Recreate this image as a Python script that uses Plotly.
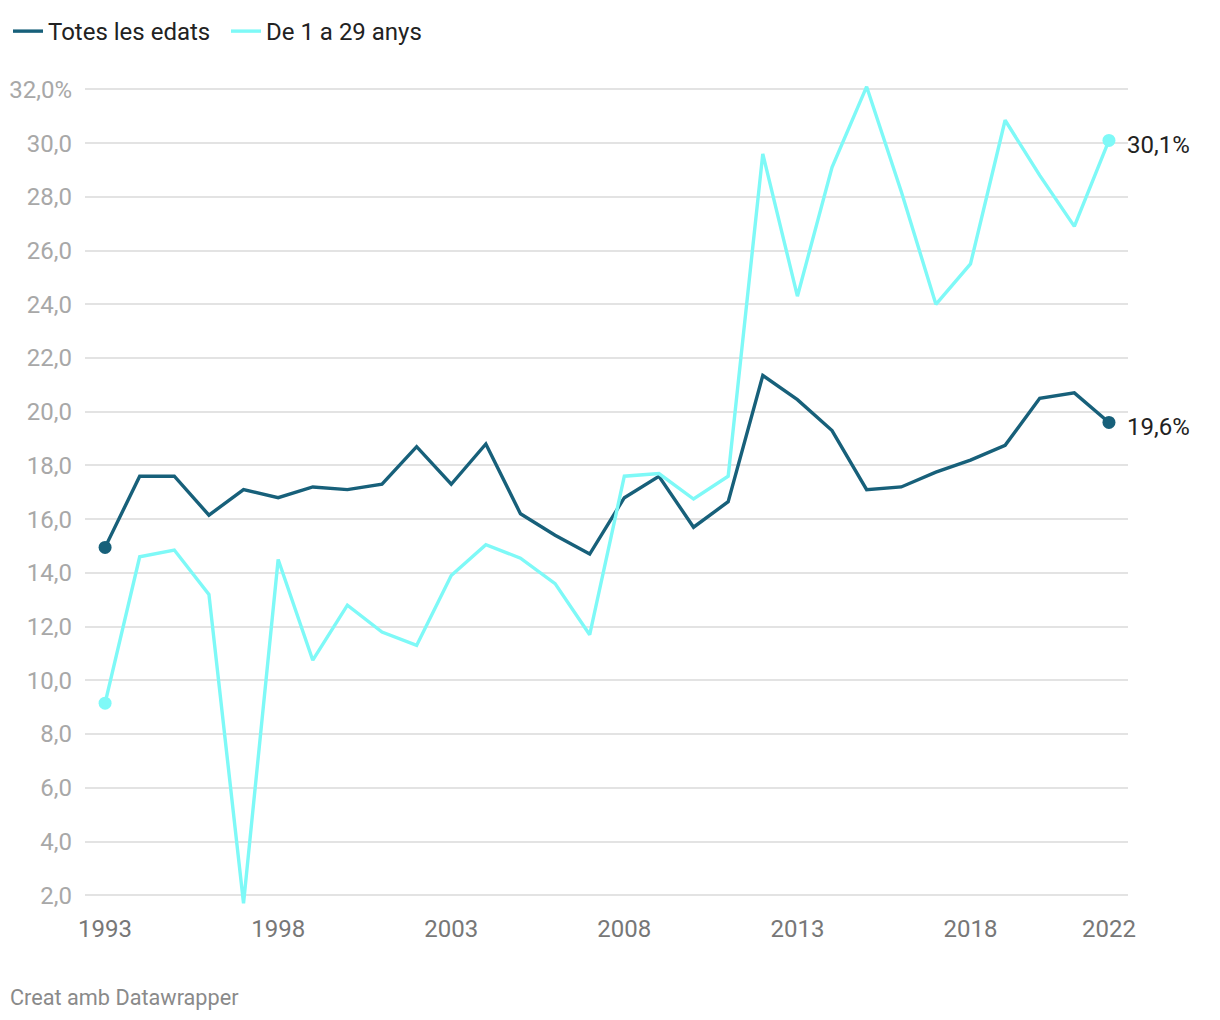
import plotly.graph_objects as go

years = list(range(1993, 2023))
totes = [14.95, 17.6, 17.6, 16.15, 17.1, 16.8, 17.2, 17.1, 17.3, 18.7,
         17.3, 18.8, 16.2, 15.4, 14.7, 16.8, 17.6, 15.7, 16.65, 21.35,
         20.45, 19.3, 17.1, 17.2, 17.75, 18.2, 18.75, 20.5, 20.7, 19.6]
joves = [9.15, 14.6, 14.85, 13.2, 1.7, 14.5, 10.75, 12.8, 11.8, 11.3,
         13.9, 15.05, 14.55, 13.6, 11.7, 17.6, 17.7, 16.75, 17.6, 29.6,
         24.3, 29.1, 32.1, 28.2, 24.0, 25.5, 30.85, 28.8, 26.9, 30.1]
series_names = ["Totes les edats", "De 1 a 29 anys"]
end_labels = ["19,6%", "30,1%"]
y_ticks = [2, 4, 6, 8, 10, 12, 14, 16, 18, 20, 22, 24, 26, 28, 30, 32]
y_tick_text = ["2,0", "4,0", "6,0", "8,0", "10,0", "12,0", "14,0", "16,0", "18,0",
               "20,0", "22,0", "24,0", "26,0", "28,0", "30,0", "32,0%"]
x_ticks = [1993, 1998, 2003, 2008, 2013, 2018, 2022]

colors = ["#17607a", "#7ef9f7"]
FONT = "Roboto"
FS = 24

# figure offset by the 8px page margin
L, T, R, B = 77, 76, 1120, 898
W, H = 1220, 1020

fig = go.Figure()
for name, vals, col in zip(series_names, [totes, joves], colors):
    fig.add_trace(go.Scatter(
        x=years, y=vals, name=name, mode="lines",
        line=dict(color=col, width=3.4),
        cliponaxis=False,
    ))
for name, vals, col in zip(series_names, [totes, joves], colors):
    fig.add_trace(go.Scatter(
        x=[years[0], years[-1]], y=[vals[0], vals[-1]], mode="markers",
        marker=dict(size=13, color=col, opacity=1, line=dict(width=0)),
        showlegend=False, cliponaxis=False,
    ))

for vals, lab in zip([totes, joves], end_labels):
    fig.add_annotation(x=years[-1], y=vals[-1], text=lab, showarrow=False,
                       xanchor="left", yanchor="middle", xshift=16, yshift=-5,
                       font=dict(family=FONT, size=FS, color="#222222"))

fig.add_annotation(xref="paper", yref="paper",
                   x=(0 - L) / (R - L), y=-(989 - B) / (B - T),
                   text="Creat amb Datawrapper",
                   showarrow=False, xanchor="left", yanchor="middle",
                   font=dict(family=FONT, size=21.7, color="#8a8a8a"))

fig.update_layout(
    width=W, height=H,
    margin=dict(l=L, r=W - R, t=T, b=H - B, autoexpand=False),
    paper_bgcolor="white", plot_bgcolor="white",
    font=dict(family=FONT, size=FS, color="#222222"),
    showlegend=True,
    legend=dict(orientation="h", xref="container", yref="container",
                x=-0.0008, y=0.999, xanchor="left", yanchor="top",
                font=dict(family=FONT, size=FS, color="#222222"),
                itemwidth=30, bgcolor="rgba(0,0,0,0)", tracegroupgap=0,
                entrywidth=173, entrywidthmode="pixels"),
    xaxis=dict(range=[1992.42, 2022.55], tickvals=x_ticks, showgrid=False,
               zeroline=False, showline=False, ticks="", automargin=False,
               tickfont=dict(family=FONT, size=FS, color="#777777"),
               ticklabelstandoff=6),
    yaxis=dict(range=[1.6, 32.2], tickvals=y_ticks, ticktext=y_tick_text,
               showgrid=True, gridcolor="#e3e3e3", gridwidth=1.5,
               zeroline=False, showline=False, ticks="", automargin=False,
               tickfont=dict(family=FONT, size=FS, color="#a8a8a8"),
               ticklabelstandoff=12),
    hovermode=False,
)

fig.write_html("out.html")
